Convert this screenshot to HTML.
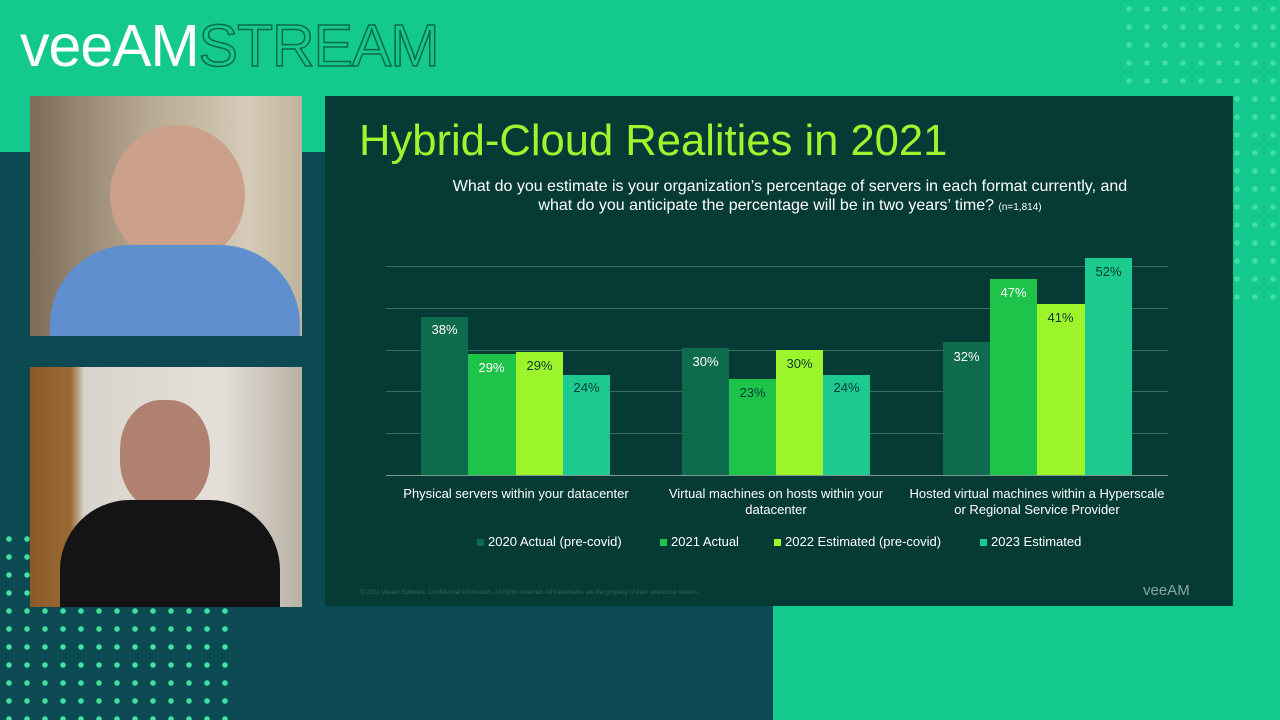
<!DOCTYPE html>
<html><head><meta charset="utf-8"><style>
body{margin:0;width:1280px;height:720px;overflow:hidden;position:relative;background:#13c98e;font-family:"Liberation Sans",sans-serif}
div{position:absolute}
.lbl{color:#fff;font-size:13px;text-align:center;width:47px}
.grid{left:386px;width:782px;height:1px;background:#3f6a60}
.lg{top:534px;color:#fff;font-size:13px;white-space:nowrap}
.lg span{display:inline-block;width:7px;height:7px;margin-right:4px}
</style></head><body>
<div style="left:0;top:152px;width:1233px;height:568px;background:#0b4a52"></div>
<div style="left:773px;top:606px;width:507px;height:114px;background:#13c98e"></div>
<div style="left:1120px;top:0;width:160px;height:300px;background-image:radial-gradient(circle,#3fe0a0 2.5px,transparent 3px);background-size:18px 18px"></div>
<div style="left:0;top:530px;width:240px;height:190px;background-image:radial-gradient(circle,#3fe0a0 2.5px,transparent 3px);background-size:18px 18px"></div>
<div style="left:20px;top:12px;font-size:59px;color:#fff;letter-spacing:-1px;white-space:nowrap">veeAM<span style="color:#13c98e;-webkit-text-stroke:1.5px #0a6a4a">STREAM</span></div>
<!-- webcams -->
<div style="left:30px;top:96px;width:272px;height:240px;background:linear-gradient(90deg,#7d6b5a,#b4a48d 40%,#d5cbb8 80%,#c0b39c)"></div>
<div style="left:110px;top:125px;width:135px;height:140px;border-radius:50%;background:#caa08a"></div>
<div style="left:50px;top:245px;width:250px;height:91px;border-radius:80px 80px 0 0;background:#5f8fcf"></div>
<div style="left:30px;top:367px;width:272px;height:240px;background:linear-gradient(90deg,#8a5a2a 0,#9b6a33 15%,#d8d4cc 20%,#e4e0d8 70%,#b8b0a4)"></div>
<div style="left:120px;top:400px;width:90px;height:110px;border-radius:45%;background:#b08070"></div>
<div style="left:60px;top:500px;width:220px;height:107px;border-radius:70px 70px 0 0;background:#141414"></div>
<!-- slide -->
<div style="left:325px;top:96px;width:908px;height:510px;background:#063b35"></div>
<div style="left:359px;top:116px;font-size:44px;color:#9ef52d;white-space:nowrap;transform:scaleX(0.99);transform-origin:left">Hybrid-Cloud Realities in 2021</div>
<div style="left:440px;top:177px;width:700px;text-align:center;color:#fff;font-size:16px;line-height:19px">What do you estimate is your organization’s percentage of servers in each format currently, and what do you anticipate the percentage will be in two years’ time? <span style="font-size:10px">(n=1,814)</span></div>
<div class="grid" style="top:266px"></div><div class="grid" style="top:308px"></div><div class="grid" style="top:350px"></div><div class="grid" style="top:391px"></div><div class="grid" style="top:433px"></div><div class="grid" style="top:475px;background:#7a9a90"></div>
<div style="left:421px;top:317px;width:47px;height:158px;background:#0f6b4e"></div>
<div style="left:468px;top:354px;width:48px;height:121px;background:#1ec34a"></div>
<div style="left:516px;top:352px;width:47px;height:123px;background:#9cf52a"></div>
<div style="left:563px;top:375px;width:47px;height:100px;background:#1cc98e"></div>
<div style="left:682px;top:348px;width:47px;height:127px;background:#0f6b4e"></div>
<div style="left:729px;top:379px;width:47px;height:96px;background:#1ec34a"></div>
<div style="left:776px;top:350px;width:47px;height:125px;background:#9cf52a"></div>
<div style="left:823px;top:375px;width:47px;height:100px;background:#1cc98e"></div>
<div style="left:943px;top:342px;width:47px;height:133px;background:#0f6b4e"></div>
<div style="left:990px;top:279px;width:47px;height:196px;background:#1ec34a"></div>
<div style="left:1037px;top:304px;width:48px;height:171px;background:#9cf52a"></div>
<div style="left:1085px;top:258px;width:47px;height:217px;background:#1cc98e"></div>
<div class="lbl" style="left:421px;top:322px">38%</div><div class="lbl" style="left:468px;top:360px">29%</div><div class="lbl" style="left:516px;top:358px;color:#063b35">29%</div><div class="lbl" style="left:563px;top:380px;color:#063b35">24%</div>
<div class="lbl" style="left:682px;top:354px">30%</div><div class="lbl" style="left:729px;top:385px;color:#063b35">23%</div><div class="lbl" style="left:776px;top:356px;color:#063b35">30%</div><div class="lbl" style="left:823px;top:380px;color:#063b35">24%</div>
<div class="lbl" style="left:943px;top:349px">32%</div><div class="lbl" style="left:990px;top:285px">47%</div><div class="lbl" style="left:1037px;top:310px;color:#063b35">41%</div><div class="lbl" style="left:1085px;top:264px;color:#063b35">52%</div>
<div style="left:386px;top:486px;width:260px;text-align:center;color:#fff;font-size:13px;line-height:16px">Physical servers within your datacenter</div>
<div style="left:646px;top:486px;width:260px;text-align:center;color:#fff;font-size:13px;line-height:16px">Virtual machines on hosts within your datacenter</div>
<div style="left:906px;top:486px;width:262px;text-align:center;color:#fff;font-size:13px;line-height:16px">Hosted virtual machines within a Hyperscale or Regional Service Provider</div>
<div class="lg" style="left:477px"><span style="background:#0f6b4e"></span>2020 Actual (pre-covid)</div>
<div class="lg" style="left:660px"><span style="background:#1ec34a"></span>2021 Actual</div>
<div class="lg" style="left:774px"><span style="background:#9cf52a"></span>2022 Estimated (pre-covid)</div>
<div class="lg" style="left:980px"><span style="background:#1cc98e"></span>2023 Estimated</div>
<div style="left:360px;top:590px;font-size:6px;color:#3b6058">© 2021 Veeam Software. Confidential information. All rights reserved. All trademarks are the property of their respective owners.</div>
<div style="left:1143px;top:582px;font-size:15px;color:#8aa6a0">veeAM</div>
</body></html>
